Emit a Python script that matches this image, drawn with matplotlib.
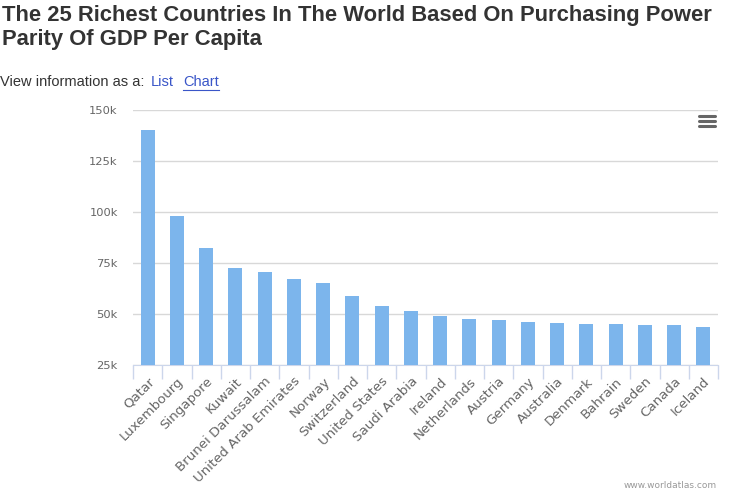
import matplotlib.pyplot as plt
from matplotlib.lines import Line2D

countries = ['Qatar', 'Luxembourg', 'Singapore', 'Kuwait', 'Brunei Darussalam',
             'United Arab Emirates', 'Norway', 'Switzerland', 'United States',
             'Saudi Arabia', 'Ireland', 'Netherlands', 'Austria', 'Germany',
             'Australia', 'Denmark', 'Bahrain', 'Sweden', 'Canada', 'Iceland']
gdp_ppp = [140200, 98000, 82400, 72500, 70600, 67200, 65200, 58800, 53900,
           51500, 49000, 47500, 47100, 46100, 45600, 45100, 45100, 44600,
           44600, 43600]
y_ticks = [25000, 50000, 75000, 100000, 125000, 150000]
y_tick_labels = ['25k', '50k', '75k', '100k', '125k', '150k']

W, H = 750, 491
fig = plt.figure(figsize=(W / 100, H / 100), dpi=100)

def px(x, y):
    # pixel coords (from top-left) -> figure fraction
    return x / W, 1 - y / H

# header texts
fig.text(*px(2, 15), 'The 25 Richest Countries In The World Based On Purchasing Power',
         family='Liberation Sans', weight='bold', fontsize=15.8, color='#333333', va='center')
fig.text(*px(2, 40), 'Parity Of GDP Per Capita',
         family='Liberation Sans', weight='bold', fontsize=15.8, color='#333333', va='center')
fig.text(*px(0, 82), 'View information as a:', family='Liberation Sans',
         fontsize=10.5, color='#333333', va='center')
fig.text(*px(151, 82), 'List', family='Liberation Sans', fontsize=10.5,
         color='#3a56c8', va='center')
fig.text(*px(183, 82), 'Chart', family='Liberation Sans', fontsize=10.5,
         color='#3a56c8', va='center')
fig.add_artist(Line2D([183 / W, 219 / W], [1 - 90 / H, 1 - 90 / H],
                      color='#3a56c8', lw=0.8))

# plot area
ax = fig.add_axes([133 / W, 1 - 365 / H, 585 / W, 255 / H])
x = list(range(len(countries)))
ax.bar(x, gdp_ppp, width=0.48, color='#7cb5ec', zorder=3)
ax.set_ylim(25000, 150000)
ax.set_xlim(-0.5, len(countries) - 0.5)

ax.set_yticks(y_ticks)
ax.set_yticklabels(y_tick_labels)
ax.yaxis.grid(True, color='#d8d8d8', lw=1)
ax.tick_params(axis='y', length=0, pad=11, labelsize=8.25, labelcolor='#666666')

ax.set_xticks(x)
ax.set_xticklabels(countries, rotation=45, ha='right', rotation_mode='anchor')
ax.tick_params(axis='x', length=0, pad=7, labelsize=9.6, labelcolor='#666666')
ax.set_xticks([i - 0.5 for i in range(len(countries) + 1)], minor=True)
ax.tick_params(axis='x', which='minor', length=10, color='#ccd6eb', width=1)

for s in ['top', 'right', 'left']:
    ax.spines[s].set_visible(False)
ax.spines['bottom'].set_color('#ccd6eb')
ax.set_axisbelow(True)

# menu icon
for yy in (116, 121, 126):
    fig.add_artist(Line2D([699 / W, 715 / W], [1 - yy / H, 1 - yy / H],
                          color='#666666', lw=2.2, solid_capstyle='round'))

# credit at the bottom
fig.text(*px(717, 490), 'www.worldatlas.com', family='DejaVu Sans', fontsize=6.5,
         color='#999999', ha='right', va='bottom')

fig.savefig('out.png', dpi=100)
